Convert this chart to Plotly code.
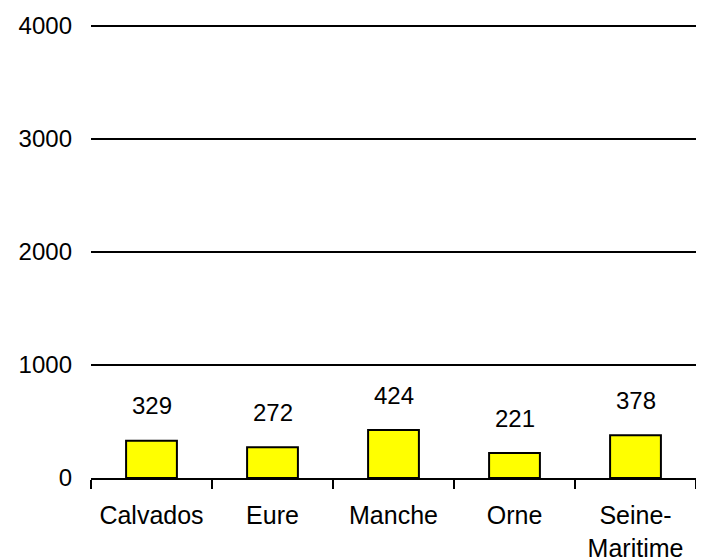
import plotly.graph_objects as go

categories = ["Calvados", "Eure", "Manche", "Orne", "Seine-<br>Maritime"]
values = [329, 272, 424, 221, 378]
y_ticks = [0, 1000, 2000, 3000, 4000]

FONT = "Liberation Sans, Arial, Helvetica, sans-serif"

fig = go.Figure()
fig.add_trace(go.Bar(
    x=categories, y=values,
    marker=dict(color="#FFFF00", line=dict(color="black", width=2)),
    width=0.42,
    hoverinfo="skip",
))

for c, v in zip(categories, values):
    fig.add_annotation(x=c, y=v, text=str(v), showarrow=False,
                       yanchor="middle", yshift=35,
                       font=dict(family=FONT, size=24, color="black"))

fig.update_layout(
    width=688, height=552,
    margin=dict(l=83, r=0, t=13, b=82, pad=0),
    paper_bgcolor="white", plot_bgcolor="white",
    showlegend=False,
    font=dict(family=FONT, size=24, color="black"),
)
fig.update_xaxes(
    automargin=False,
    showline=True, linecolor="black", linewidth=2,
    ticks="outside", tickson="boundaries", ticklen=9, tickwidth=2, tickcolor="black",
    showgrid=False, ticklabelstandoff=14,
    tickfont=dict(family=FONT, size=25, color="black"),
)
fig.update_yaxes(
    automargin=False,
    range=[0, 4040], tickvals=y_ticks, ticktext=[str(t) for t in y_ticks],
    showgrid=True, gridcolor="black", gridwidth=2,
    zeroline=False, showline=False, ticks="",
    ticklabelstandoff=18,
    tickfont=dict(family=FONT, size=24, color="black"),
)

fig.write_html("out.html")
